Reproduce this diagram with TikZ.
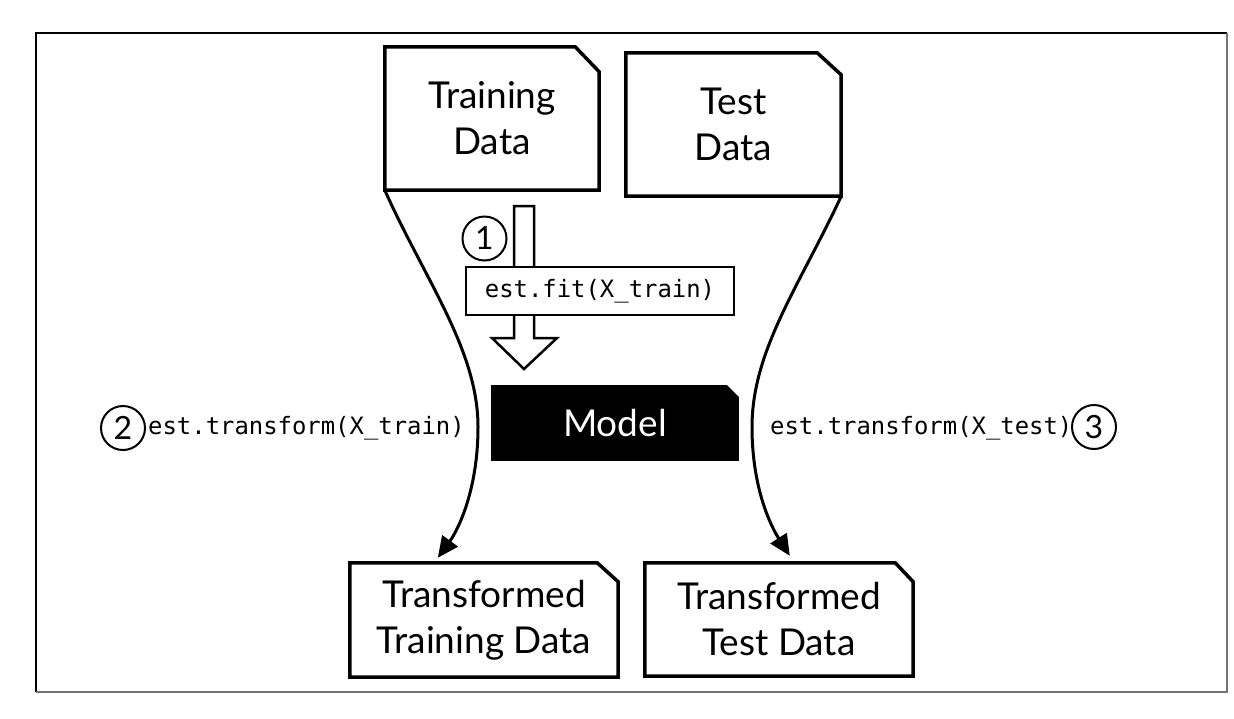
\documentclass[tikz,border=0pt]{standalone}
\usepackage{fontspec}
\setmainfont{Lato}
\newfontfamily\codefont{DejaVu Sans Mono}
\usetikzlibrary{calc,arrows.meta,backgrounds}
\tikzset{
  boxtext/.style={draw=none, inner sep=0pt, align=center, font=\fontsize{37}{46}\selectfont},
  boxline/.style={line width=3.5pt, line join=miter},
  codetext/.style={font=\codefont\fontsize{23.9}{28}\selectfont, inner sep=0pt},
  numcircle/.style={circle, draw, line width=2pt, minimum size=44pt, inner sep=0pt, font=\fontsize{32}{32}\selectfont},
  flow/.style={line width=3pt, -{Triangle[length=21pt,width=19pt]}},
}
\newcommand\cutcorner[4][]{\draw[boxline,#1] (#2.south west) -- (#2.north west) -- ([xshift=-#3pt]#2.north east) -- ([yshift=-#4pt]#2.north east) -- (#2.south east) -- cycle;}
\begin{document}
\begin{tikzpicture}[x=1pt,y=-1pt]
\useasboundingbox (0,0) rectangle (1234,718);
% frame
\draw[line width=2pt] (1227,33) -- (36,33) -- (36,692);
\draw[line width=1.5pt, black!55] (36,692) -- (1227,692) -- (1227,33);

% top boxes
\node[boxtext, minimum width=214pt, minimum height=143pt] (train) at (492,118.5) {Training\\Data};
\node[boxtext, minimum width=215pt, minimum height=143pt] (test) at (733.5,124.5) {Test\\Data};
% model
\node[boxtext, minimum width=244pt, minimum height=72pt, text=white] (model) at (615,423) {Model};
% bottom boxes
\node[boxtext, minimum width=268pt, minimum height=114pt] (ttrain) at (484,620) {Transformed\\Training Data};
\node[boxtext, minimum width=268pt, minimum height=113pt] (ttest) at (779,619.5) {Transformed\\Test Data};

\begin{scope}[on background layer]
\cutcorner{train}{24}{25}
\cutcorner{test}{24}{22}
\cutcorner[fill=black]{model}{11}{11}
\cutcorner{ttrain}{21}{19}
\cutcorner{ttest}{18}{19}
\end{scope}

% hollow arrow (fit)
\coordinate (fa) at (524,206);
\draw[line width=2.5pt, line join=miter, fill=white]
  ($(fa)+(-10,0)$) -- ($(fa)+(10,0)$) -- ($(fa)+(10,132)$) -- ($(fa)+(33,132)$)
  -- ($(fa)+(0,163)$) -- ($(fa)+(-32,132)$) -- ($(fa)+(-10,132)$) -- cycle;
\node[draw, line width=2pt, fill=white, minimum width=268pt, minimum height=48pt, codetext] (fit) at (600,291) {est.fit(X\_train)};
\node[numcircle] (c1) at (484.5,238.5) {1};

% transform connectors
\coordinate (lbend) at (478,427);
\coordinate (rbend) at (752,427);
\draw[flow] (train.south west) .. controls (425,280) and (478,350) .. (lbend)
  .. controls (478,490) and (458,530) .. ($(ttrain.north west)+(88,-5)$);
\draw[flow] (test.south east) .. controls (800,285) and (752,350) .. (rbend)
  .. controls (752,490) and (772,528) .. ($(ttest.north west)+(145,-7)$);

% labels
\node[numcircle] (c2) at (123,428) {2};
\node[codetext, anchor=west] (l2) at (148,428) {est.transform(X\_train)};
\node[codetext, anchor=west] (l3) at (770,428) {est.transform(X\_test)};
\node[numcircle] (c3) at (1094,427) {3};
\end{tikzpicture}
\end{document}
